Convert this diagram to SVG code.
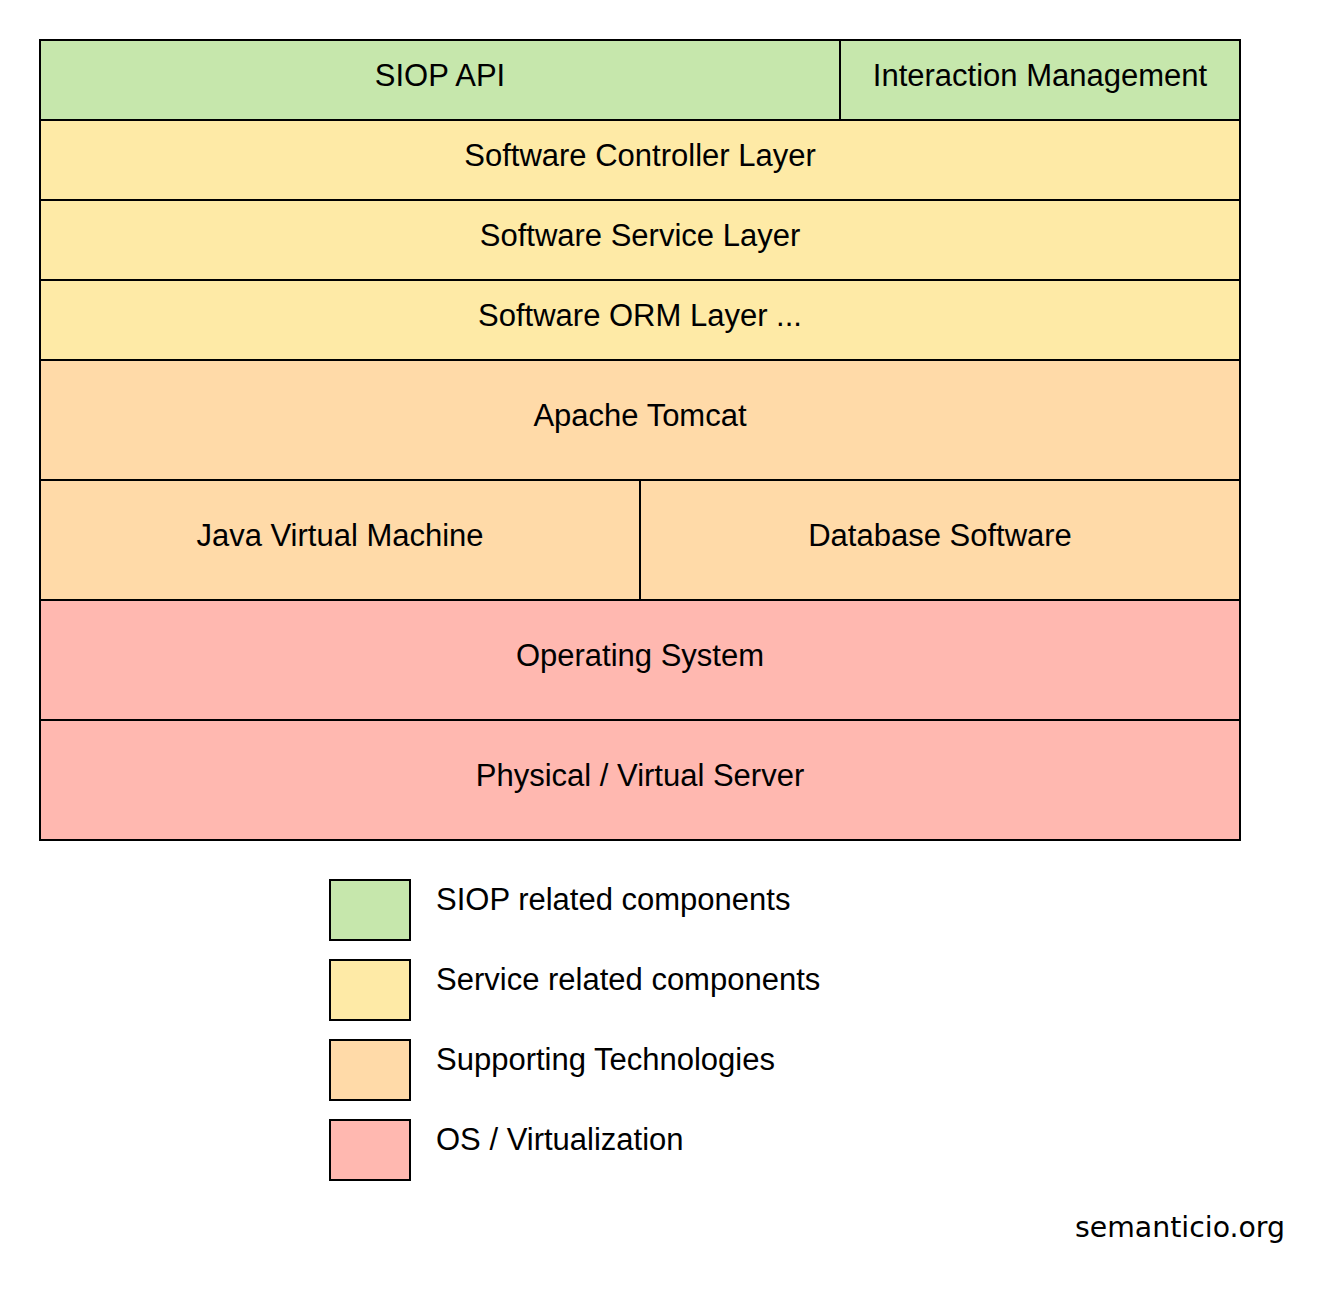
<svg xmlns="http://www.w3.org/2000/svg" width="1340" height="1300" viewBox="0 0 1340 1300">
<style>
.b{stroke:#000;stroke-width:2}
.g{fill:#C6E7AC}.y{fill:#FEEAA6}.o{fill:#FFDAA8}.p{fill:#FFB8B0}
text{font-family:"Liberation Sans",Arial,sans-serif;font-size:31px;fill:#000}
.c{text-anchor:middle}
</style>
<rect width="1340" height="1300" fill="#fff"/>
<g id="siop-api"><rect class="b g" x="40" y="40" width="800" height="80"/><text class="c" x="440" y="86">SIOP API</text></g>
<g id="interaction-management"><rect class="b g" x="840" y="40" width="400" height="80"/><text class="c" x="1040" y="86">Interaction Management</text></g>
<g id="controller"><rect class="b y" x="40" y="120" width="1200" height="80"/><text class="c" x="640" y="166">Software Controller Layer</text></g>
<g id="service"><rect class="b y" x="40" y="200" width="1200" height="80"/><text class="c" x="640" y="246">Software Service Layer</text></g>
<g id="orm"><rect class="b y" x="40" y="280" width="1200" height="80"/><text class="c" x="640" y="326">Software ORM Layer ...</text></g>
<g id="tomcat"><rect class="b o" x="40" y="360" width="1200" height="120"/><text class="c" x="640" y="426">Apache Tomcat</text></g>
<g id="jvm"><rect class="b o" x="40" y="480" width="600" height="120"/><text class="c" x="340" y="546">Java Virtual Machine</text></g>
<g id="database"><rect class="b o" x="640" y="480" width="600" height="120"/><text class="c" x="940" y="546">Database Software</text></g>
<g id="os"><rect class="b p" x="40" y="600" width="1200" height="120"/><text class="c" x="640" y="666">Operating System</text></g>
<g id="server"><rect class="b p" x="40" y="720" width="1200" height="120"/><text class="c" x="640" y="786">Physical / Virtual Server</text></g>
<g id="legend">
<rect class="b g" x="330" y="880" width="80" height="60"/><text x="436" y="910">SIOP related components</text>
<rect class="b y" x="330" y="960" width="80" height="60"/><text x="436" y="990">Service related components</text>
<rect class="b o" x="330" y="1040" width="80" height="60"/><text x="436" y="1070">Supporting Technologies</text>
<rect class="b p" x="330" y="1120" width="80" height="60"/><text x="436" y="1150">OS / Virtualization</text>
</g>
<g id="connectors"/>
<text x="1075" y="1237" style="font-family:'DejaVu Sans',sans-serif;font-size:28px" textLength="210" lengthAdjust="spacingAndGlyphs">semanticio.org</text>
</svg>
